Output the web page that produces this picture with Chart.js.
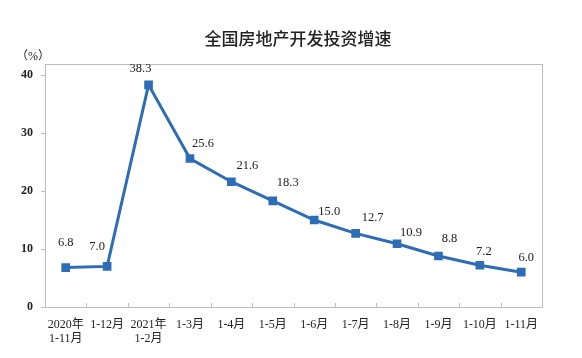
<!DOCTYPE html>
<html><head><meta charset="utf-8">
<script src="https://cdn.jsdelivr.net/npm/chart.js@4/dist/chart.umd.min.js"></script>
<style>html,body{margin:0;padding:0;background:#fff}#wrap{width:582px;height:358px;position:relative}</style>
</head><body><div id="wrap"><canvas id="c" width="582" height="358"></canvas></div>
<script>
const categories = [["2020年","1-11月"],"1-12月",["2021年","1-2月"],"1-3月","1-4月","1-5月","1-6月","1-7月","1-8月","1-9月","1-10月","1-11月"];
const growth = [6.8,7.0,38.3,25.6,21.6,18.3,15.0,12.7,10.9,8.8,7.2,6.0];
const yTicks = [0,10,20,30,40];
const title = "全国房地产开发投资增速";
const unitLabel = "（%）";
const labelOffsets = [[0,-25],[-10,-20],[-8,-16],[13,-15],[16,-16],[15,-18],[15,-8],[17,-16],[14,-11],[11,-17],[4,-14],[5,-14]];

const axisColor = "#bdbdbd";
const serif = "'Liberation Serif','Noto Sans CJK SC',serif";

const decor = {
  id: 'decor',
  afterDraw(chart) {
    const ctx = chart.ctx, a = chart.chartArea;
    ctx.save();
    ctx.strokeStyle = axisColor; ctx.lineWidth = 1;
    ctx.strokeRect(Math.round(a.left)+0.5, Math.round(a.top)+0.5, Math.round(a.right-a.left), Math.round(a.bottom-a.top));
    const w = (a.right - a.left) / categories.length;
    for (let i = 1; i < categories.length; i++) {
      const x = Math.round(a.left + w*i) + 0.5;
      ctx.beginPath(); ctx.moveTo(x, a.bottom); ctx.lineTo(x, a.bottom-4); ctx.stroke();
    }
    ctx.fillStyle = "#222";
    ctx.font = "500 17px 'Noto Sans CJK SC'";
    ctx.textAlign = "center"; ctx.textBaseline = "middle";
    ctx.fillText(title, 298, 39);
    ctx.font = "12px " + serif;
    ctx.textAlign = "left";
    ctx.fillText(unitLabel, 16, 57);
    const meta = chart.getDatasetMeta(0);
    ctx.font = "12.5px " + serif;
    ctx.textAlign = "center";
    ctx.fillStyle = "#222";
    meta.data.forEach((p, i) => {
      const o = labelOffsets[i];
      ctx.fillText(growth[i].toFixed(1), p.x + o[0], p.y + o[1]);
    });
    ctx.restore();
  }
};

new Chart(document.getElementById('c'), {
  type: 'line',
  data: { labels: categories, datasets: [{
    data: growth, borderColor: '#2c6db5', backgroundColor: '#2c6db5', borderWidth: 3,
    pointStyle: 'rect', pointRadius: 4, pointHoverRadius: 4, tension: 0, fill: false
  }]},
  options: {
    responsive: false, animation: false,
    layout: { padding: { top: 64, right: 40, left: 0, bottom: 0 } },
    plugins: { legend: { display: false }, tooltip: { enabled: false }, title: { display: false } },
    scales: {
      x: {
        offset: true,
        grid: { display: false },
        border: { display: false },
        ticks: { color: '#222', font: { family: serif, size: 12, lineHeight: 1.15 }, padding: 3, maxRotation: 0, autoSkip: false },
        afterFit(s) { s.height = 51; }
      },
      y: {
        min: 0, max: 41.9,
        afterBuildTicks(s) { s.ticks = yTicks.map(v => ({ value: v })); },
        grid: { drawOnChartArea: false, drawTicks: true, tickLength: 4, color: axisColor },
        border: { display: false },
        ticks: { color: '#222', font: { family: serif, size: 12, weight: 'bold' }, padding: 8 },
        afterFit(s) { s.width = 45; }
      }
    }
  },
  plugins: [decor]
});
</script></body></html>
